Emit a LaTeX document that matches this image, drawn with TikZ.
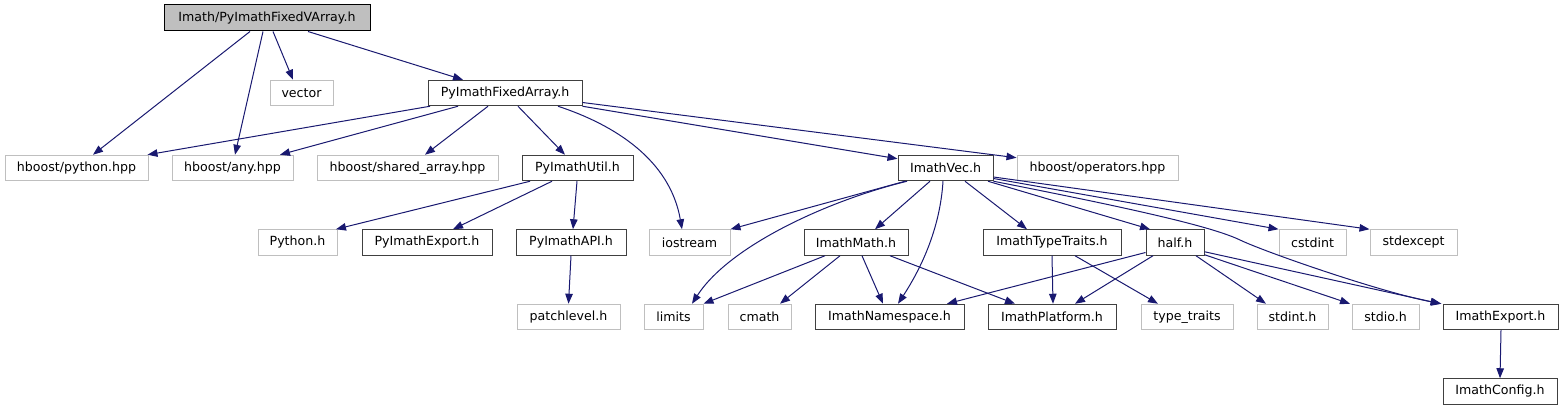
\documentclass[tikz,border=0pt]{standalone}
\usepackage{fontspec}
\setmainfont{DejaVu Sans}
\usetikzlibrary{arrows.meta}
\definecolor{edgec}{HTML}{191970}
\definecolor{docb}{HTML}{404040}
\definecolor{extb}{HTML}{BFBFBF}
\tikzset{
  box/.style={draw, line width=1pt, minimum height=25.5pt, inner sep=0pt, fill=white,
              font=\fontsize{12.6}{15}\selectfont},
  docn/.style={box, draw=docb},
  extn/.style={box, draw=extb},
  rootn/.style={box, draw=black, fill=extb, minimum height=26pt},
  e/.style={draw=edgec, line width=1pt, -{Triangle[length=10pt,width=7.5pt]}},
}
\begin{document}
\begin{tikzpicture}[x=1pt,y=-1pt]
\useasboundingbox (0,0) rectangle (1563,411);
% rank 0
\node[rootn, minimum width=206pt] (root) at (267,18) {Imath/PyImathFixedVArray.h};
% rank 1
\node[extn, minimum width=63pt] (vector) at (301.5,93) {vector};
\node[docn, minimum width=154pt] (pfa) at (505,93) {PyImathFixedArray.h};
% rank 2
\node[extn, minimum width=143pt] (python) at (76.5,168) {hboost/python.hpp};
\node[extn, minimum width=121pt] (any) at (232.5,168) {hboost/any.hpp};
\node[extn, minimum width=181pt] (shared) at (407.5,168) {hboost/shared\_array.hpp};
\node[docn, minimum width=111pt] (util) at (577.5,168) {PyImathUtil.h};
\node[docn, minimum width=95pt] (vec) at (945.5,168) {ImathVec.h};
\node[extn, minimum width=161pt] (ops) at (1097.5,168) {hboost/operators.hpp};
% rank 3
\node[extn, minimum width=79pt] (pyh) at (297.5,242.5) {Python.h};
\node[docn, minimum width=130pt] (pexp) at (427,242.5) {PyImathExport.h};
\node[docn, minimum width=110pt] (api) at (571,242.5) {PyImathAPI.h};
\node[extn, minimum width=81pt] (iostream) at (689.5,242.5) {iostream};
\node[docn, minimum width=104pt] (math) at (856,242.5) {ImathMath.h};
\node[docn, minimum width=138pt] (tt) at (1052,242.5) {ImathTypeTraits.h};
\node[docn, minimum width=58pt] (half) at (1175,242.5) {half.h};
\node[extn, minimum width=67pt] (cstdint) at (1312.5,242.5) {cstdint};
\node[extn, minimum width=87pt] (stdexcept) at (1413.5,242.5) {stdexcept};
% rank 4
\node[extn, minimum width=103pt] (patch) at (568.5,317) {patchlevel.h};
\node[extn, minimum width=59pt] (limits) at (673.5,317) {limits};
\node[extn, minimum width=63pt] (cmath) at (759.5,317) {cmath};
\node[docn, minimum width=149pt] (ns) at (889.5,317) {ImathNamespace.h};
\node[docn, minimum width=128pt] (plat) at (1052,317) {ImathPlatform.h};
\node[extn, minimum width=92pt] (typet) at (1187,317) {type\_traits};
\node[extn, minimum width=71pt] (stdint) at (1292.5,317) {stdint.h};
\node[extn, minimum width=67pt] (stdio) at (1385.5,317) {stdio.h};
\node[docn, minimum width=115pt] (iexp) at (1500.5,317) {ImathExport.h};
% rank 5
\node[docn, minimum width=114pt] (config) at (1500,391.5) {ImathConfig.h};

% edges from root
\draw[e] ([xshift=-17pt]root.south) -- ([xshift=16.5pt]python.north);
\draw[e] ([xshift=-4pt]root.south) -- ([xshift=2.5pt]any.north);
\draw[e] ([xshift=6pt]root.south) -- ([xshift=-8.5pt]vector.north);
\draw[e] ([xshift=41pt]root.south) -- ([xshift=-42pt]pfa.north);
% edges from PyImathFixedArray.h
\draw[e] ([xshift=-75pt]pfa.south) -- ([xshift=-1pt]python.north east);
\draw[e] ([xshift=-47pt]pfa.south) -- ([xshift=47.5pt]any.north);
\draw[e] ([xshift=-17pt]pfa.south) -- ([xshift=17.5pt]shared.north);
\draw[e] ([xshift=13pt]pfa.south) -- ([xshift=-12.5pt]util.north);
\draw[e] ([xshift=53pt]pfa.south) .. controls (615,125) and (670,160) .. ([xshift=-7.5pt]iostream.north);
\draw[e] (pfa.south east) -- ([yshift=-4pt]vec.north west);
\draw[e] ([yshift=3.75pt]pfa.south east) -- ([yshift=-3pt]ops.north west);
% edges from PyImathUtil.h
\draw[e] ([xshift=-47.5pt]util.south) -- ([xshift=38.5pt]pyh.north);
\draw[e] ([xshift=-25.5pt]util.south) -- ([xshift=26pt]pexp.north);
\draw[e] ([xshift=-0.5pt]util.south) -- ([xshift=2pt]api.north);
\draw[e] (api.south) -- (patch.north);
% edges from ImathVec.h
\draw[e] ([xshift=-40.5pt]vec.south) -- (iostream.north east);
\draw[e] ([xshift=-38.5pt]vec.south) .. controls (830,200) and (730,245) .. ([xshift=18.5pt]limits.north);
\draw[e] ([xshift=-15.5pt]vec.south) -- ([xshift=19pt]math.north);
\draw[e] ([xshift=-2.5pt]vec.south) .. controls (940,230) and (920,270) .. ([xshift=8.5pt]ns.north);
\draw[e] ([xshift=19.5pt]vec.south) -- ([xshift=-25pt]tt.north);
\draw[e] ([xshift=42.5pt]vec.south) -- ([xshift=-25pt]half.north);
\draw[e] ([yshift=2.75pt]vec.south east) -- (cstdint.north west);
\draw[e] ([yshift=4.25pt]vec.south east) -- (stdexcept.north west);
\draw[e] (vec.south east) .. controls (1150,212) and (1215,228) .. (1240,240)
          .. controls (1265,252) and (1380,292) .. ([xshift=-1pt]iexp.north west);
% edges from ImathMath.h
\draw[e] ([xshift=-31pt]math.south) -- (limits.north east);
\draw[e] ([xshift=-16pt]math.south) -- ([xshift=20.5pt]cmath.north);
\draw[e] ([xshift=6pt]math.south) -- ([xshift=-6.5pt]ns.north);
\draw[e] ([xshift=34pt]math.south) -- ([xshift=-37pt]plat.north);
% edges from ImathTypeTraits.h
\draw[e] (tt.south) -- ([xshift=1pt]plat.north);
\draw[e] ([xshift=23pt]tt.south) -- ([xshift=-29pt]typet.north);
% edges from half.h
\draw[e] ([yshift=3.25pt]half.south west) -- ([xshift=57.5pt]ns.north);
\draw[e] ([xshift=-22pt]half.south) -- ([xshift=23pt]plat.north);
\draw[e] ([xshift=21pt]half.south) -- ([xshift=-26.5pt]stdint.north);
\draw[e] ([yshift=1pt]half.south east) -- ([xshift=-35.5pt]stdio.north);
\draw[e] ([yshift=4pt]half.south east) -- ([xshift=-2pt]iexp.north west);
% ImathExport.h
\draw[e] ([xshift=0.5pt]iexp.south) -- (config.north);
\end{tikzpicture}
\end{document}
